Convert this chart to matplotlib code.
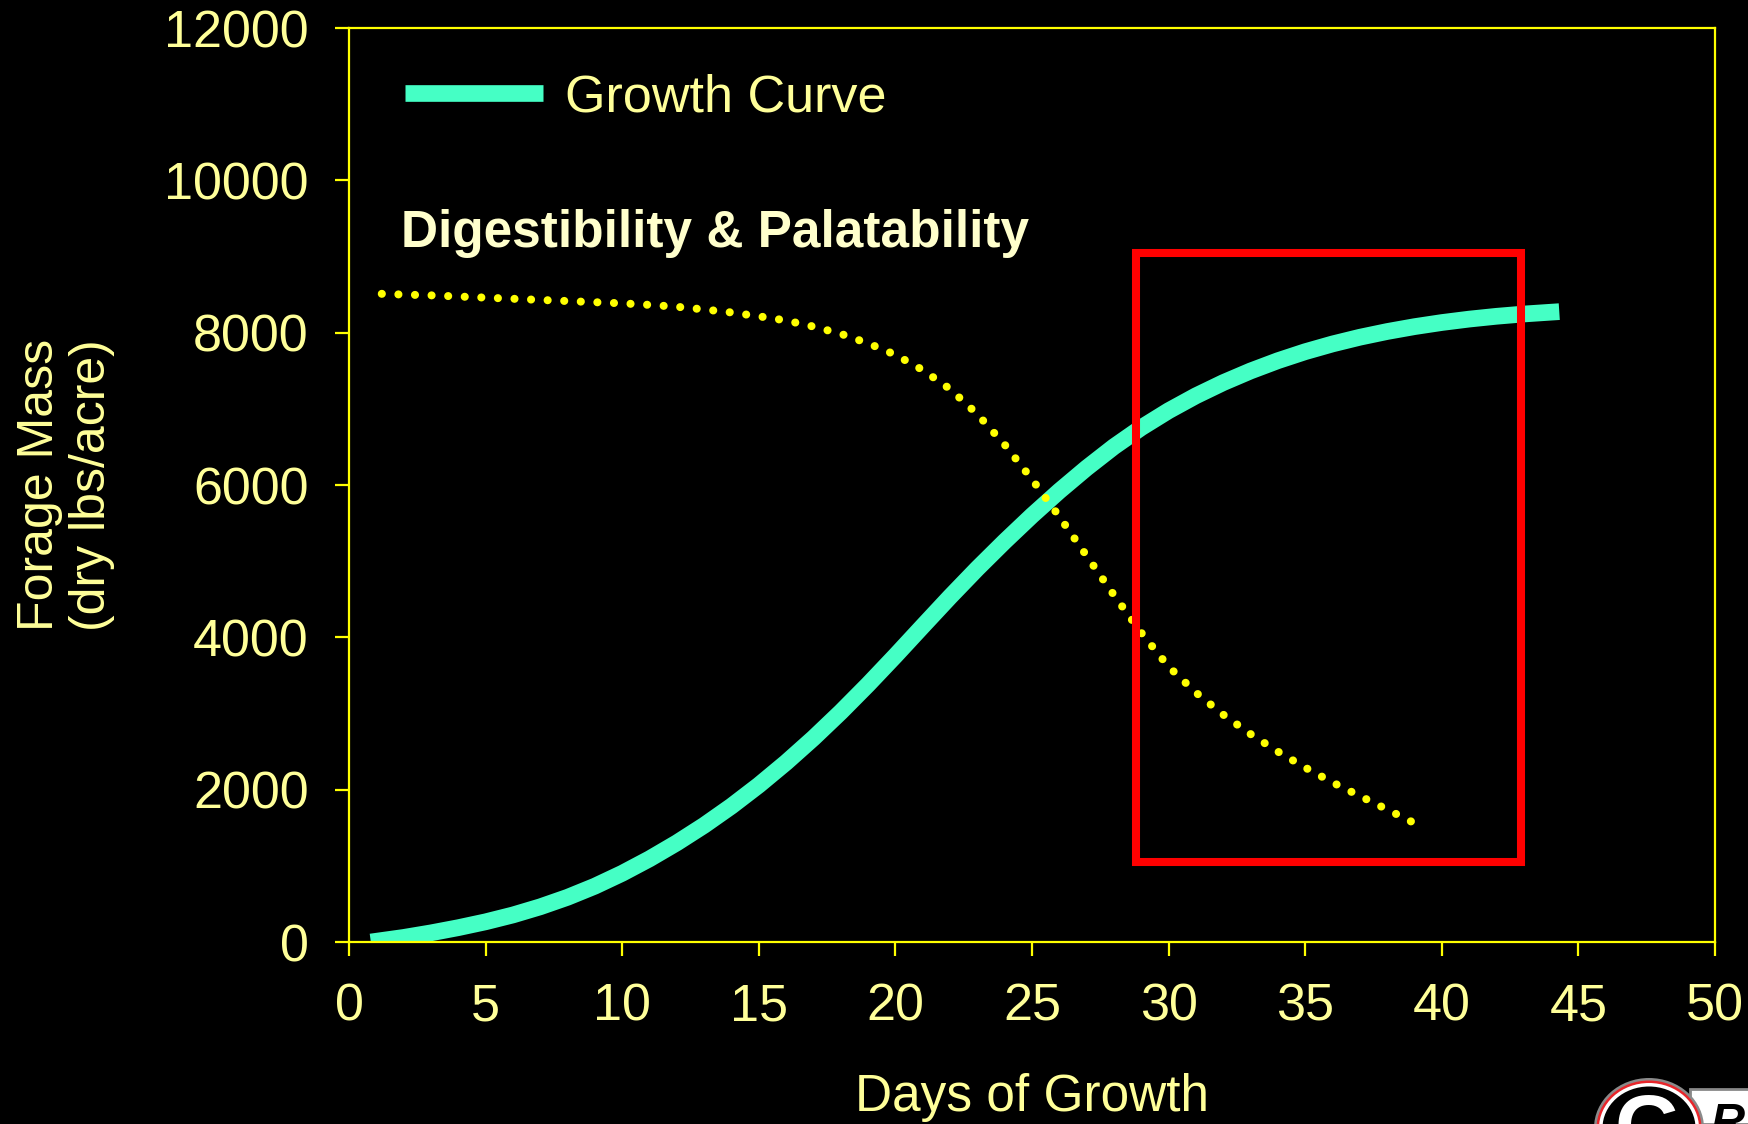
import matplotlib
matplotlib.use("Agg")
import matplotlib.pyplot as plt
from matplotlib.patches import Rectangle, Ellipse

# ---- data -------------------------------------------------------------
growth_days = [0.8] + list(range(2, 45)) + [44.3]
forage_mass = [0, 60, 120, 188, 265, 355, 462, 587, 733, 902,
               1092, 1302, 1532, 1784, 2059, 2357, 2677, 3019, 3381, 3759,
               4147, 4532, 4904, 5259, 5599, 5921, 6223, 6503, 6753, 6975,
               7171, 7344, 7497, 7632, 7750, 7852, 7940, 8015, 8079, 8133,
               8178, 8215, 8245, 8269, 8276]

quality_days = [1.2] + list(range(2, 40)) + [39.13]
quality_level = [8510, 8500, 8490, 8475, 8460, 8445, 8430, 8415, 8400, 8385,
                 8365, 8340, 8305, 8265, 8215, 8160, 8080, 7985, 7860, 7710,
                 7510, 7260, 6930, 6530, 6075, 5585, 5070, 4555, 4060, 3615,
                 3275, 2985, 2730, 2500, 2290, 2095, 1917, 1740, 1560, 1523]

x_ticks = [0, 5, 10, 15, 20, 25, 30, 35, 40, 45, 50]
y_ticks = [0, 2000, 4000, 6000, 8000, 10000, 12000]

highlight_days = [28.8, 42.9]
highlight_mass = [1050, 9050]

# ---- styling ----------------------------------------------------------
plt.rcParams['font.family'] = ['Liberation Sans', 'DejaVu Sans']
W, H = 1748, 1124
AXIS_YELLOW = '#FFFF00'
TEXT_YELLOW = '#FFFF99'
GREEN = '#45FFC5'

fig = plt.figure(figsize=(W / 100, H / 100), dpi=100, facecolor='black')
ax = fig.add_axes([349 / W, 1 - 942 / H, (1715 - 349) / W, (942 - 28) / H])
ax.set_facecolor('black')

ax.plot(growth_days, forage_mass, color=GREEN, lw=12,
        solid_capstyle='butt', solid_joinstyle='round',
        label='Growth Curve', zorder=2)
ax.plot(quality_days, quality_level, color='#FFFF00', lw=5.8,
        linestyle=(0, (0.01, 2.05)), dash_capstyle='round',
        label='_nolegend_', zorder=3)

ax.add_patch(Rectangle((highlight_days[0], highlight_mass[0]),
                       highlight_days[1] - highlight_days[0],
                       highlight_mass[1] - highlight_mass[0],
                       fill=False, edgecolor='#FF0000', lw=5.8, zorder=4))

ax.set_xlim(0, 50)
ax.set_ylim(0, 12000)
ax.set_xticks(x_ticks)
ax.set_yticks(y_ticks)
ax.set_xticklabels([str(v) for v in x_ticks])
ax.set_yticklabels([str(v) for v in y_ticks])

for s in ax.spines.values():
    s.set_color(AXIS_YELLOW)
    s.set_linewidth(1.6)
ax.tick_params(direction='out', length=10, width=1.6, color=AXIS_YELLOW,
               labelcolor=TEXT_YELLOW, labelsize=37.5)
ax.tick_params(axis='y', pad=19)
ax.tick_params(axis='x', pad=19)

ax.set_xlabel('Days of Growth', fontsize=37, color=TEXT_YELLOW)
ax.xaxis.set_label_coords(0.5, (942 - 1097) / 914)
ax.xaxis.label.set_va('center')

ax.set_ylabel('Forage Mass\n(dry lbs/acre)', fontsize=36, color=TEXT_YELLOW,
              linespacing=1.15)
ax.yaxis.set_label_coords((66 - 349) / 1366, 0.5)
ax.yaxis.label.set_va('center')

ax.legend(loc='center left', bbox_to_anchor=((405 - 349) / 1366, (942 - 98) / 914),
          frameon=False, fontsize=37.5, handlelength=2.65, handletextpad=0.43,
          borderpad=0, borderaxespad=0, labelcolor=TEXT_YELLOW)

ax.text((401 - 349) / 1366, (942 - 234) / 914, 'Digestibility & Palatability',
        transform=ax.transAxes, fontsize=37, fontweight='bold',
        color='#FFFFCC', ha='left', va='center')

# ---- university logo, bottom-right corner ------------------------------
def px(x, y):
    return (x / 100, (H - y) / 100)

tr = fig.dpi_scale_trans
banner = Rectangle(px(1690, 1124), 0.7, 0.35, transform=tr,
                   facecolor='white', edgecolor='#888888', lw=2)
fig.add_artist(banner)
for w, h, c in [(110, 100, '#8a8a8a'), (105, 95, '#E8262B'),
                (100, 90, 'white'), (93, 83, 'black')]:
    fig.add_artist(Ellipse(px(1649, 1128), w / 100, h / 100, transform=tr,
                           facecolor=c, edgecolor='none'))
fig.text(*px(1648, 1155), 'G', transform=tr, fontsize=62, fontweight='heavy',
         color='white', ha='center', va='baseline')
fig.text(*px(1710, 1136), 'RA', transform=tr, fontsize=34, fontweight='bold',
         fontstyle='italic', color='black', ha='left', va='baseline')

fig.savefig('out.png', dpi=100, facecolor='black')
